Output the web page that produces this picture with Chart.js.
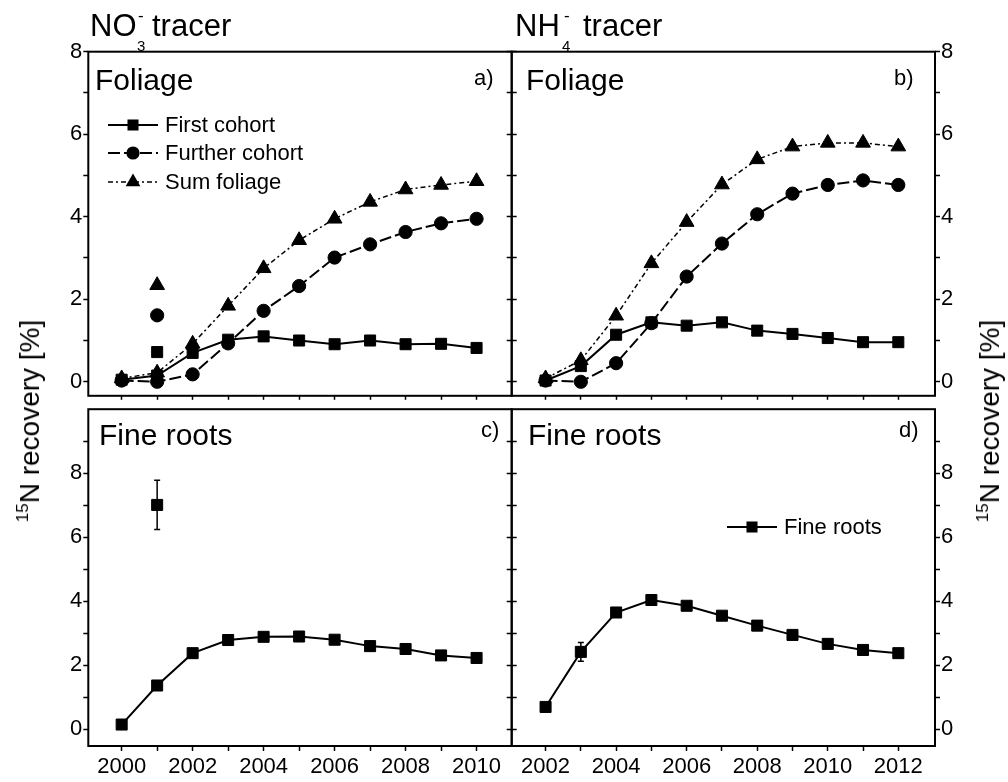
<!DOCTYPE html>
<html><head><meta charset="utf-8">
<script src="https://cdn.jsdelivr.net/npm/chart.js@4.4.1/dist/chart.umd.min.js"></script>
<style>
html,body{margin:0;padding:0;background:#fff;}
body{width:1008px;height:782px;position:relative;overflow:hidden;font-family:"Liberation Sans",Arial,sans-serif;color:#000;}
canvas{position:absolute;}
.t{position:absolute;line-height:1;white-space:nowrap;}
.yt{font-size:28px;transform:translate(-50%,-50%) rotate(-90deg);}
.yt .s{font-size:17px;position:relative;top:-11px;}
</style></head><body>
<canvas id="tl" width="520" height="410" style="left:0px;top:0px"></canvas>
<canvas id="tr" width="504" height="410" style="left:504px;top:0px"></canvas>
<canvas id="bl" width="520" height="387" style="left:0px;top:395px"></canvas>
<canvas id="br" width="504" height="387" style="left:504px;top:395px"></canvas>

<div class="t" style="left:90px;top:10px;font-size:31px">NO</div>
<div class="t" style="left:137px;top:38px;font-size:15px">3</div>
<div class="t" style="left:138px;top:7px;font-size:17px">-</div>
<div class="t" style="left:152px;top:10px;font-size:31px">tracer</div>

<div class="t" style="left:515px;top:10px;font-size:31px">NH</div>
<div class="t" style="left:562px;top:38px;font-size:15px">4</div>
<div class="t" style="left:564px;top:7px;font-size:17px">-</div>
<div class="t" style="left:583px;top:10px;font-size:31px">tracer</div>

<div class="t" style="left:95px;top:65px;font-size:30px">Foliage</div>
<div class="t" style="left:474px;top:67px;font-size:22px">a)</div>
<div class="t" style="left:526px;top:65px;font-size:30px">Foliage</div>
<div class="t" style="left:894px;top:67px;font-size:22px">b)</div>
<div class="t" style="left:99px;top:420px;font-size:30px">Fine roots</div>
<div class="t" style="left:481px;top:419px;font-size:22px">c)</div>
<div class="t" style="left:528px;top:420px;font-size:30px">Fine roots</div>
<div class="t" style="left:899px;top:419px;font-size:22px">d)</div>

<div class="t yt" style="left:30px;top:421px"><span class="s">15</span>N recovery [%]</div>
<div class="t yt" style="left:990px;top:421px"><span class="s">15</span>N recovery [%]</div>

<script>
// ---------- data ----------
const yearsNO3 = [2000, 2001, 2002, 2003, 2004, 2005, 2006, 2007, 2008, 2009, 2010];
const firstNO3 = [0.05, 0.15, 0.70, 1.02, 1.10, 1.00, 0.91, 1.00, 0.91, 0.92, 0.82];
const furtherNO3 = [0.03, 0.00, 0.18, 0.93, 1.72, 2.32, 3.01, 3.33, 3.63, 3.84, 3.95];
const sumNO3 = [0.08, 0.22, 0.92, 1.84, 2.75, 3.43, 3.95, 4.36, 4.66, 4.77, 4.86];
const extraYearNO3 = [2001];
const firstNO3Extra = [0.72];
const furtherNO3Extra = [1.61];
const sumNO3Extra = [2.34];

const yearsNH4 = [2002, 2003, 2004, 2005, 2006, 2007, 2008, 2009, 2010, 2011, 2012];
const firstNH4 = [0.03, 0.38, 1.14, 1.44, 1.36, 1.44, 1.24, 1.16, 1.06, 0.96, 0.96];
const furtherNH4 = [0.03, 0.00, 0.45, 1.42, 2.55, 3.35, 4.06, 4.56, 4.77, 4.88, 4.77];
const sumNH4 = [0.08, 0.52, 1.60, 2.87, 3.87, 4.78, 5.39, 5.70, 5.79, 5.79, 5.70];

const rootsNO3 = [0.15, 1.37, 2.38, 2.79, 2.89, 2.90, 2.80, 2.60, 2.51, 2.31, 2.23];
const rootsNO3Extra = [7.01];
const rootsNO3ExtraErr = [0.77];
const rootsNH4 = [0.70, 2.42, 3.65, 4.04, 3.86, 3.55, 3.24, 2.95, 2.67, 2.48, 2.38];
const rootsNH4Err = [0, 0.29, 0, 0, 0, 0, 0, 0, 0, 0, 0];

const xTicksNO3 = [2000, 2001, 2002, 2003, 2004, 2005, 2006, 2007, 2008, 2009, 2010];
const xLabelsNO3 = [2000, 2002, 2004, 2006, 2008, 2010];
const xTicksNH4 = [2002, 2003, 2004, 2005, 2006, 2007, 2008, 2009, 2010, 2011, 2012];
const xLabelsNH4 = [2002, 2004, 2006, 2008, 2010, 2012];
const yTicksFoliage = [0, 1, 2, 3, 4, 5, 6, 7, 8];
const yLabelsFoliage = [0, 2, 4, 6, 8];
const yTicksRoots = [0, 1, 2, 3, 4, 5, 6, 7, 8, 9];
const yLabelsRoots = [0, 2, 4, 6, 8];

const legendFoliage = ['First cohort', 'Further cohort', 'Sum foliage'];
const legendRoots = ['Fine roots'];

// ---------- helpers ----------
const FONT = '"Liberation Sans", Arial, sans-serif';
const pts = (xs, ys) => xs.map((x, i) => ({x, y: ys[i]}));

const STY = {
  first: {pointStyle: 'rect', pointRadius: 7.8, borderWidth: 2, borderDash: []},
  further: {pointStyle: 'circle', pointRadius: 6.6, borderWidth: 2, borderDash: [12, 4]},
  sum: {pointStyle: 'triangle', pointRadius: 8.5, borderWidth: 1.5, borderDash: [5, 3, 2, 3]},
};
function ds(label, data, sty, extra) {
  return Object.assign({
    label, data, borderColor: '#000', backgroundColor: '#000',
    pointBackgroundColor: '#000', pointBorderColor: '#000', pointBorderWidth: 1,
    pointStyle: sty.pointStyle, pointRadius: sty.pointRadius, pointHoverRadius: sty.pointRadius,
    borderWidth: sty.borderWidth, borderDash: sty.borderDash, tension: 0, fill: false
  }, extra || {});
}

const framePlugin = {
  id: 'frame',
  afterDraw(chart) {
    const a = chart.chartArea, c = chart.ctx;
    c.save(); c.strokeStyle = '#000'; c.lineWidth = 2; c.setLineDash([]);
    c.strokeRect(a.left, a.top, a.right - a.left, a.bottom - a.top);
    c.restore();
  }
};
const errPlugin = {
  id: 'errbars',
  afterDatasetsDraw(chart) {
    const c = chart.ctx;
    chart.data.datasets.forEach((d, di) => {
      if (!d.errorBars) return;
      const meta = chart.getDatasetMeta(di);
      const xs = meta.xScale, ys = meta.yScale;
      d.data.forEach((p, i) => {
        const e = d.errorBars[i];
        if (!e) return;
        const x = xs.getPixelForValue(p.x);
        const y1 = ys.getPixelForValue(p.y + e), y2 = ys.getPixelForValue(p.y - e);
        c.save(); c.strokeStyle = '#000'; c.lineWidth = 1.5; c.setLineDash([]);
        c.beginPath();
        c.moveTo(x, y1); c.lineTo(x, y2);
        c.moveTo(x - 3, y1); c.lineTo(x + 3, y1);
        c.moveTo(x - 3, y2); c.lineTo(x + 3, y2);
        c.stroke(); c.restore();
      });
    });
  }
};
function drawMarker(c, style, r, x, y) {
  c.beginPath();
  if (style === 'rect') { const s = r * Math.SQRT1_2; c.rect(x - s, y - s, 2 * s, 2 * s); }
  else if (style === 'circle') { c.arc(x, y, r, 0, Math.PI * 2); }
  else if (style === 'triangle') {
    let a = 0; c.moveTo(x + Math.sin(a) * r, y - Math.cos(a) * r);
    a += 2 * Math.PI / 3; c.lineTo(x + Math.sin(a) * r, y - Math.cos(a) * r);
    a += 2 * Math.PI / 3; c.lineTo(x + Math.sin(a) * r, y - Math.cos(a) * r);
    c.closePath();
  }
  c.fill();
}
const legendPlugin = {
  id: 'inlegend',
  afterDraw(chart, args, opts) {
    if (!opts || !opts.items) return;
    const c = chart.ctx;
    opts.items.forEach(it => {
      const d = chart.data.datasets[it.ds];
      c.save();
      c.strokeStyle = '#000'; c.fillStyle = '#000';
      c.lineWidth = d.borderWidth; c.setLineDash(d.borderDash || []);
      c.beginPath(); c.moveTo(opts.x0, it.y); c.lineTo(opts.x1, it.y); c.stroke();
      c.setLineDash([]);
      drawMarker(c, d.pointStyle, d.pointRadius, (opts.x0 + opts.x1) / 2, it.y);
      c.font = '22px ' + FONT; c.textBaseline = 'middle'; c.textAlign = 'left';
      c.fillText(d.label, opts.x1 + 7, it.y + 1);
      c.restore();
    });
  }
};

function axisX(min, max, ticks, labels, showLabels, h) {
  return {
    type: 'linear', position: 'bottom', min, max,
    afterBuildTicks: s => { s.ticks = ticks.map(v => ({value: v})); },
    afterFit: s => { s.height = h; },
    ticks: {display: showLabels, autoSkip: false, maxRotation: 0, padding: 3, color: '#000',
      font: {family: FONT, size: 22}, callback: v => labels.includes(v) ? String(v) : ''},
    grid: {drawOnChartArea: false, drawTicks: true, tickLength: showLabels ? 5 : 4, color: '#000', tickWidth: 1.5},
    border: {display: false}
  };
}
function axisY(pos, min, max, ticks, labels, showLabels, w) {
  return {
    type: 'linear', position: pos, min, max,
    afterBuildTicks: s => { s.ticks = ticks.map(v => ({value: v})); },
    afterFit: s => { s.width = w; },
    ticks: {display: showLabels, autoSkip: false, padding: 1, color: '#000',
      font: {family: FONT, size: 22}, callback: v => labels.includes(v) ? String(v) : ''},
    grid: {drawOnChartArea: false, drawTicks: true, tickLength: 5, color: '#000', tickWidth: 1.5},
    border: {display: false}
  };
}
function makeChart(id, datasets, scales, padTop, legendOpts) {
  return new Chart(document.getElementById(id), {
    type: 'line',
    data: {datasets},
    options: {
      responsive: false, animation: false, events: [],
      layout: {padding: {top: padTop, left: 0, right: 0, bottom: 0}, autoPadding: false},
      plugins: {legend: {display: false}, tooltip: {enabled: false}, inlegend: legendOpts || {}},
      scales
    },
    plugins: [framePlugin, errPlugin, legendPlugin]
  });
}

// ---------- panels ----------
makeChart('tl', [
  ds(legendFoliage[0], pts(yearsNO3, firstNO3), STY.first),
  ds(legendFoliage[1], pts(yearsNO3, furtherNO3), STY.further),
  ds(legendFoliage[2], pts(yearsNO3, sumNO3), STY.sum),
  ds(legendFoliage[0], pts(extraYearNO3, firstNO3Extra), STY.first, {showLine: false}),
  ds(legendFoliage[1], pts(extraYearNO3, furtherNO3Extra), STY.further, {showLine: false}),
  ds(legendFoliage[2], pts(extraYearNO3, sumNO3Extra), STY.sum, {showLine: false}),
], {
  x: axisX(1999.06, 2010.99, xTicksNO3, xLabelsNO3, false, 9.3),
  y: axisY('left', -0.34, 8, yTicksFoliage, yLabelsFoliage, true, 88.3),
  y2: axisY('right', -0.34, 8, yTicksFoliage, yLabelsFoliage, false, 8.3),
}, 51.7, {x0: 108, x1: 158, items: [{ds: 0, y: 125}, {ds: 1, y: 153}, {ds: 2, y: 182}]});

makeChart('tr', [
  ds(legendFoliage[0], pts(yearsNH4, firstNH4), STY.first),
  ds(legendFoliage[1], pts(yearsNH4, furtherNH4), STY.further),
  ds(legendFoliage[2], pts(yearsNH4, sumNH4), STY.sum),
], {
  x: axisX(2001.04, 2013.04, xTicksNH4, xLabelsNH4, false, 9.3),
  y: axisY('left', -0.34, 8, yTicksFoliage, yLabelsFoliage, false, 7.7),
  y2: axisY('right', -0.34, 8, yTicksFoliage, yLabelsFoliage, true, 73),
}, 51.7);

makeChart('bl', [
  ds(legendRoots[0], pts(yearsNO3, rootsNO3), STY.first),
  ds(legendRoots[0], pts(extraYearNO3, rootsNO3Extra), STY.first, {showLine: false, errorBars: rootsNO3ExtraErr}),
], {
  x: axisX(1999.06, 2010.99, xTicksNO3, xLabelsNO3, true, 36),
  y: axisY('left', -0.52, 10, yTicksRoots, yLabelsRoots, true, 88.3),
  y2: axisY('right', -0.52, 10, yTicksRoots, yLabelsRoots, false, 8.3),
}, 5.7);

makeChart('br', [
  ds(legendRoots[0], pts(yearsNH4, rootsNH4), STY.first, {errorBars: rootsNH4Err}),
], {
  x: axisX(2001.04, 2013.04, xTicksNH4, xLabelsNH4, true, 36),
  y: axisY('left', -0.52, 10, yTicksRoots, yLabelsRoots, false, 7.7),
  y2: axisY('right', -0.52, 10, yTicksRoots, yLabelsRoots, true, 73),
}, 5.7, {x0: 223, x1: 273, items: [{ds: 0, y: 132}]});
</script>
</body></html>
